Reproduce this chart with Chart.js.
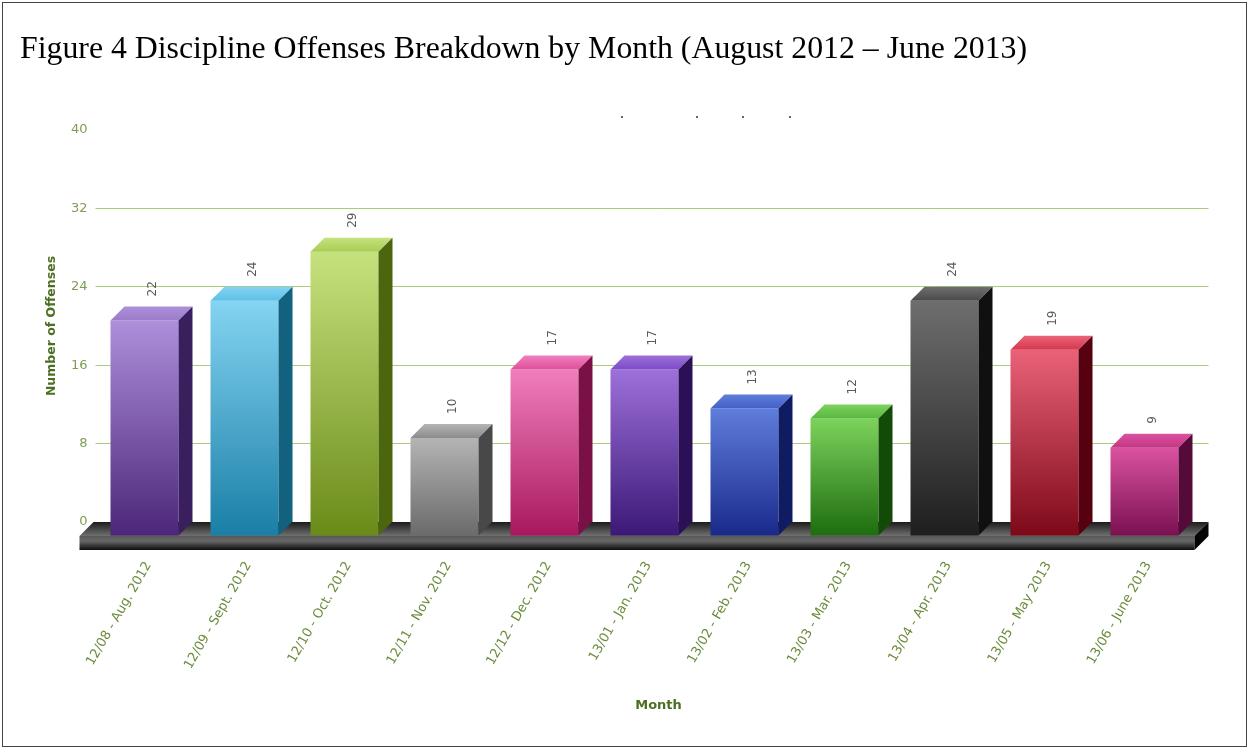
<!DOCTYPE html>
<html><head><meta charset="utf-8">
<script src="https://cdn.jsdelivr.net/npm/chart.js@4/dist/chart.umd.min.js"></script>
<style>
html,body{margin:0;padding:0;background:#fff;width:1249px;height:749px;overflow:hidden;}
#wrap{position:absolute;left:0;top:0;width:1249px;height:749px;}
#frame{position:absolute;left:2px;top:2px;width:1245px;height:745px;border:1px solid #444;box-sizing:border-box;pointer-events:none;}
#title{position:absolute;left:20px;top:32px;font-family:"Liberation Serif","Times New Roman",serif;font-size:31.8px;color:#000;white-space:nowrap;line-height:1;}
.dot{position:absolute;top:116px;width:2px;height:2px;background:#666;}
</style></head><body>
<div id="wrap"><canvas id="c" width="1249" height="749"></canvas></div>
<div id="frame"></div>
<div id="title">Figure 4 Discipline Offenses Breakdown by Month (August 2012 – June 2013)</div>
<div class="dot" style="left:621px"></div>
<div class="dot" style="left:696px"></div>
<div class="dot" style="left:742px"></div>
<div class="dot" style="left:789px"></div>
<script>
// ---- data ----
const categories = ["12/08 - Aug. 2012","12/09 - Sept. 2012","12/10 - Oct. 2012","12/11 - Nov. 2012","12/12 - Dec. 2012","13/01 - Jan. 2013","13/02 - Feb. 2013","13/03 - Mar. 2013","13/04 - Apr. 2013","13/05 - May 2013","13/06 - June 2013"];
const offenses = [22, 24, 29, 10, 17, 17, 13, 12, 24, 19, 9];
const yTicks = [0, 8, 16, 24, 32, 40];
const yTitle = "Number of Offenses";
const xTitle = "Month";

// ---- styles ----
const frontTop    = ["#ad8fdb","#84d4f2","#c6e27e","#b4b4b4","#f07fbd","#9d70da","#5f7ddb","#7dd25c","#6e6e6e","#ea6278","#da52a0"];
const frontBottom = ["#4c2678","#1a7ea6","#6a8a18","#6a6a6a","#a8175e","#3b1876","#19298a","#1d6c0f","#1e1e1e","#7c0818","#7a1050"];
const topFace     = ["#9a7cc9","#5cc0e6","#a9cc52","#8c8c8c","#e0509a","#7b4cc6","#4460c8","#58b840","#4a4a4a","#d6384e","#c43684"];
const sideFace    = ["#3a1f5e","#11617f","#4c660e","#484848","#7a1045","#2b1058","#101c62","#124a08","#101010","#560010","#560a3a"];

const DEPTH = 14;

const floorPlugin = {
  id: 'floor3d',
  beforeDatasetsDraw(chart) {
    const ctx = chart.ctx, a = chart.chartArea, y0 = chart.scales.y.getPixelForValue(0);
    const L = a.left - 15, R = a.right;
    ctx.save();
    // top face
    let g = ctx.createLinearGradient(0, y0, 0, y0 + DEPTH);
    g.addColorStop(0, '#1c1c1c'); g.addColorStop(1, '#707070');
    ctx.fillStyle = g;
    ctx.beginPath();
    ctx.moveTo(L, y0); ctx.lineTo(R, y0); ctx.lineTo(R - DEPTH, y0 + DEPTH); ctx.lineTo(L - DEPTH, y0 + DEPTH); ctx.closePath(); ctx.fill();
    // front face
    g = ctx.createLinearGradient(0, y0 + DEPTH, 0, y0 + DEPTH + 14);
    g.addColorStop(0, '#585858'); g.addColorStop(0.35, '#686868'); g.addColorStop(1, '#0c0c0c');
    ctx.fillStyle = g;
    ctx.fillRect(L - DEPTH, y0 + DEPTH, (R - DEPTH) - (L - DEPTH), 14);
    // right side face
    ctx.fillStyle = '#050505';
    ctx.beginPath();
    ctx.moveTo(R - DEPTH, y0 + DEPTH); ctx.lineTo(R, y0); ctx.lineTo(R, y0 + 14); ctx.lineTo(R - DEPTH, y0 + DEPTH + 14); ctx.closePath(); ctx.fill();
    ctx.restore();
    // shift front faces
    ctx.save();
    ctx.translate(-DEPTH, DEPTH);
  },
  afterDatasetsDraw(chart) {
    const ctx = chart.ctx;
    const meta = chart.getDatasetMeta(0);
    meta.data.forEach((el, i) => {
      const p = el.getProps(['x', 'y', 'base', 'width'], true);
      const l = p.x - p.width / 2, r = p.x + p.width / 2;
      // top face
      let g = ctx.createLinearGradient(0, p.y - DEPTH, 0, p.y);
      g.addColorStop(0, frontTop[i]); g.addColorStop(1, topFace[i]);
      ctx.fillStyle = g;
      ctx.beginPath();
      ctx.moveTo(l, p.y); ctx.lineTo(r, p.y); ctx.lineTo(r + DEPTH, p.y - DEPTH); ctx.lineTo(l + DEPTH, p.y - DEPTH); ctx.closePath(); ctx.fill();
      // side face
      ctx.fillStyle = sideFace[i];
      ctx.beginPath();
      ctx.moveTo(r, p.y); ctx.lineTo(r + DEPTH, p.y - DEPTH); ctx.lineTo(r + DEPTH, p.base - DEPTH); ctx.lineTo(r, p.base); ctx.closePath(); ctx.fill();
    });
    ctx.restore();
    // value labels
    ctx.save();
    ctx.font = '12px "DejaVu Sans"';
    ctx.fillStyle = '#5a5a5a';
    ctx.textAlign = 'left';
    ctx.textBaseline = 'middle';
    meta.data.forEach((el, i) => {
      const p = el.getProps(['x', 'y'], true);
      ctx.save();
      ctx.translate(p.x - 6, p.y - 10);
      ctx.rotate(-Math.PI / 2);
      ctx.fillText(String(offenses[i]), 0, 0);
      ctx.restore();
    });
    ctx.restore();
  }
};

const ctx = document.getElementById('c').getContext('2d');
new Chart(ctx, {
  type: 'bar',
  data: {
    labels: categories,
    datasets: [{
      data: offenses,
      borderWidth: 0,
      clip: false,
      barPercentage: 0.68,
      categoryPercentage: 1.0,
      backgroundColor: (c) => {
        const ch = c.chart;
        if (!ch.scales || !ch.scales.y || c.dataIndex === undefined) return frontBottom[0];
        const ys = ch.scales.y;
        const yt = ys.getPixelForValue(c.raw), yb = ys.getPixelForValue(0);
        if (!isFinite(yt) || !isFinite(yb) || yt === yb) return frontBottom[c.dataIndex];
        const g = ch.ctx.createLinearGradient(0, yt, 0, yb);
        g.addColorStop(0, frontTop[c.dataIndex]);
        g.addColorStop(1, frontBottom[c.dataIndex]);
        return g;
      }
    }]
  },
  options: {
    responsive: false,
    animation: false,
    devicePixelRatio: 1,
    layout: { padding: { left: 0, top: 130, right: 40.5, bottom: 0 } },
    plugins: { legend: { display: false }, tooltip: { enabled: false } },
    scales: {
      x: {
        grid: { display: false },
        border: { display: false },
        ticks: {
          minRotation: 60, maxRotation: 60, autoSkip: false, labelOffset: -10,
          color: '#6b8c3c', font: { family: 'DejaVu Sans', size: 13 }, padding: 29
        },
        title: { display: true, text: xTitle, color: '#4c6f22', font: { family: 'DejaVu Sans', size: 13, weight: 'bold' }, padding: { top: 0, bottom: 36 }, align: 'center' },
        afterFit: (s) => { s.height = 227; }
      },
      y: {
        min: 0, max: 40,
        afterBuildTicks: (s) => { s.ticks = yTicks.map(v => ({ value: v })); },
        grid: {
          color: (c) => (c.tick && (c.tick.value === 0 || c.tick.value === 40)) ? 'rgba(0,0,0,0)' : '#a8cc7c',
          tickLength: 13, drawTicks: true, lineWidth: 1
        },
        border: { display: false },
        ticks: { color: '#7f9e55', font: { family: 'DejaVu Sans', size: 13 }, padding: 8 },
        title: { display: true, text: yTitle, color: '#4c6f22', font: { family: 'DejaVu Sans', size: 12.5, weight: 'bold' }, padding: { top: 44, bottom: 0 } },
        afterFit: (s) => { s.width = 108.5; }
      }
    }
  },
  plugins: [floorPlugin]
});
</script>
</body></html>
